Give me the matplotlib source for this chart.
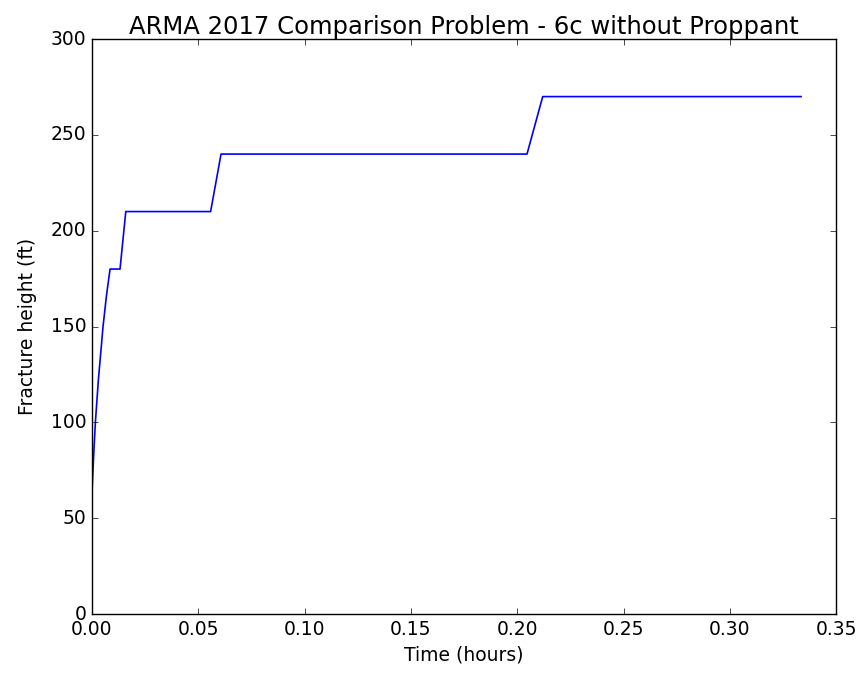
import numpy as np
import matplotlib
matplotlib.use('Agg')
import matplotlib.pyplot as plt

plt.style.use('classic')

# czas (godziny) i wysokość szczeliny (ft)
time_h = [0.0, 0.0008, 0.0016, 0.0030, 0.0052, 0.0068, 0.0085,
          0.0132, 0.0159, 0.0558, 0.0607, 0.2046, 0.2120, 0.3335]
height_ft = [63, 83, 100, 122, 150, 166, 180,
             180, 210, 210, 240, 240, 270, 270]

fig = plt.figure(figsize=(8.62, 6.74), dpi=100)
fig.patch.set_facecolor('white')
ax = fig.add_axes([0.1067, 0.089, 0.8633, 0.853])

ax.plot(time_h, height_ft, color='b', linestyle='-', linewidth=1.2)

ax.set_xlim(0, 0.35)
ax.set_ylim(0, 300)
ax.set_title('ARMA 2017 Comparison Problem - 6c without Proppant',
             fontsize=17.5, pad=4)
ax.set_xlabel('Time (hours)', fontsize=13.5)
ax.set_ylabel('Fracture height (ft)', fontsize=13.5, labelpad=10)
ax.tick_params(labelsize=13.5)

plt.savefig('out.png', dpi=100, facecolor='white')
